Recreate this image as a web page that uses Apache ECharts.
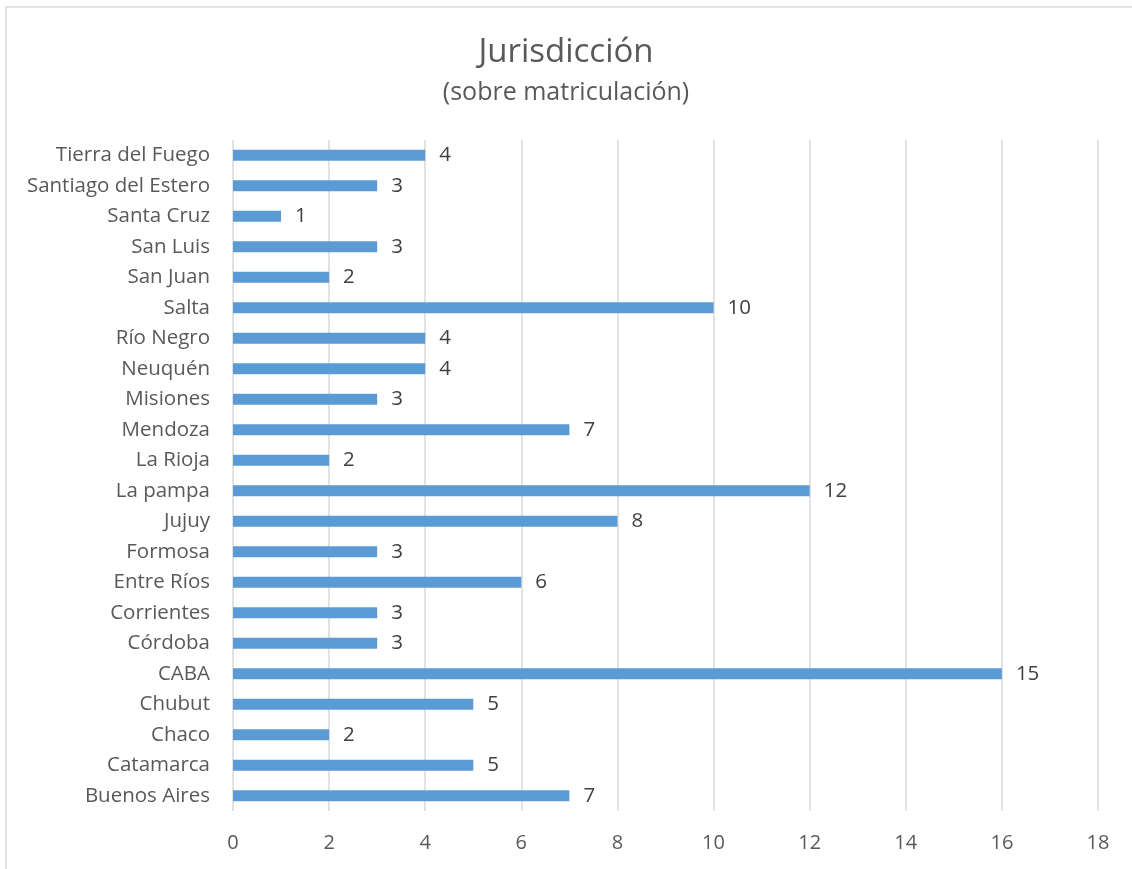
<!DOCTYPE html>
<html>
<head>
<meta charset="utf-8">
<style>
  html, body { margin: 0; padding: 0; background: #fff; }
  #chart { width: 1132px; height: 869px; }
</style>
<script src="https://cdn.jsdelivr.net/npm/echarts@6/dist/echarts.min.js"></script>
</head>
<body>
<div id="chart"></div>
<script>
// categories bottom -> top
var provincias = ['Buenos Aires', 'Catamarca', 'Chaco', 'Chubut', 'CABA', 'Córdoba', 'Corrientes',
    'Entre Ríos', 'Formosa', 'Jujuy', 'La pampa', 'La Rioja', 'Mendoza', 'Misiones', 'Neuquén',
    'Río Negro', 'Salta', 'San Juan', 'San Luis', 'Santa Cruz', 'Santiago del Estero', 'Tierra del Fuego'];
var valores = [7, 5, 2, 5, 16, 3, 3, 6, 3, 8, 12, 2, 7, 3, 4, 4, 10, 2, 3, 1, 3, 4];
// labels as printed in the original (CABA bar reaches 16 but reads 15)
var etiquetas = ['7', '5', '2', '5', '15', '3', '3', '6', '3', '8', '12', '2', '7', '3', '4', '4', '10', '2', '3', '1', '3', '4'];
var xTicks = [0, 2, 4, 6, 8, 10, 12, 14, 16, 18];

var font = '"Open Sans", "Noto Sans", sans-serif';
var chart = echarts.init(document.getElementById('chart'));
chart.setOption({
    animation: false,
    textStyle: { fontFamily: font },
    title: {
        text: 'Jurisdicción',
        subtext: '(sobre matriculación)',
        left: 'center',
        top: 31,
        itemGap: 11,
        textStyle: { fontFamily: font, fontSize: 33, fontWeight: 'normal', color: '#595959' },
        subtextStyle: { fontFamily: font, fontSize: 25, color: '#595959' }
    },
    graphic: [{
        type: 'rect',
        shape: { x: 6, y: 7, width: 1140, height: 880 },
        style: { fill: 'none', stroke: '#d9d9d9', lineWidth: 1.5 },
        silent: true
    }],
    grid: { left: 233, right: 34, top: 140, bottom: 58 },
    xAxis: {
        type: 'value',
        min: xTicks[0],
        max: xTicks[xTicks.length - 1],
        interval: 2,
        axisLine: { show: false },
        axisTick: { show: false },
        axisLabel: { fontSize: 20, color: '#595959', margin: 22, fontFamily: font },
        splitLine: { lineStyle: { color: '#d9d9d9', width: 1.5 } }
    },
    yAxis: {
        type: 'category',
        data: provincias,
        axisLine: { show: false },
        axisTick: { show: false },
        axisLabel: { fontSize: 20.5, color: '#595959', margin: 23, fontFamily: font, padding: [3, 0, 0, 0] }
    },
    series: [{
        type: 'bar',
        data: valores,
        barWidth: 11,
        itemStyle: { color: '#5b9bd5' },
        label: {
            show: true,
            position: 'right',
            distance: 14,
            fontSize: 20.5,
            color: '#404040',
            fontFamily: font,
            padding: [3, 0, 0, 0],
            formatter: function (p) { return etiquetas[p.dataIndex]; }
        }
    }]
});
</script>
</body>
</html>
